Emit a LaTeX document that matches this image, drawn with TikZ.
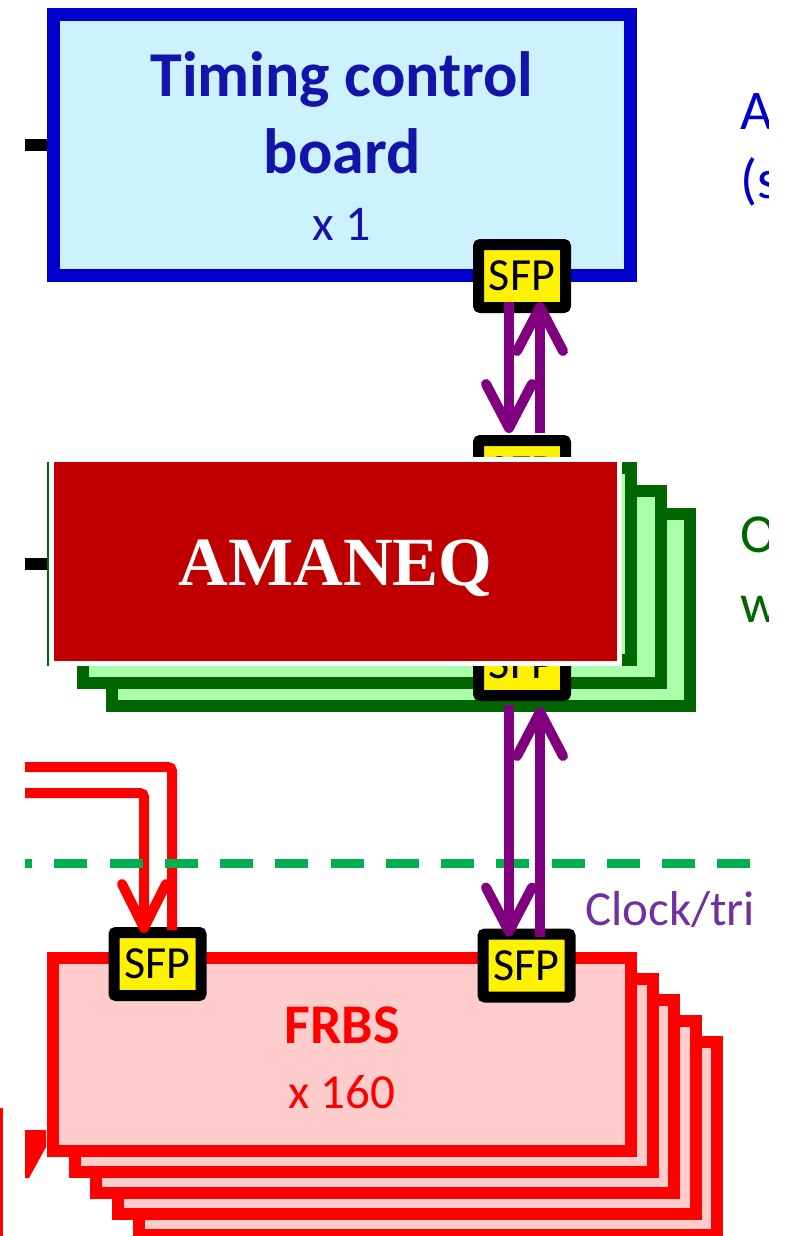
\documentclass[tikz,border=0pt]{standalone}
\usepackage{fontspec}
\setmainfont{Carlito}
\newfontfamily\amafont{Liberation Serif}
\usetikzlibrary{arrows.meta,calc}
\newcommand\myfs[1]{\fontsize{#1pt}{#1pt}\selectfont}
\definecolor{tblue}{RGB}{0,0,204}
\definecolor{tfill}{RGB}{204,242,255}
\definecolor{ttext}{RGB}{20,20,170}
\definecolor{gdark}{RGB}{0,102,0}
\definecolor{gfill}{RGB}{170,255,170}
\definecolor{amared}{RGB}{192,0,0}
\definecolor{rfill}{RGB}{255,204,204}
\definecolor{rline}{RGB}{255,0,0}
\definecolor{purp}{RGB}{128,0,128}
\definecolor{clockc}{RGB}{112,48,160}
\definecolor{dashg}{RGB}{0,176,80}
\begin{document}
\begin{tikzpicture}[x=1pt,y=-1pt,
  sfp/.style={draw=black, fill=yellow, line width=11pt, minimum width=87pt, minimum height=63pt, inner sep=0pt, rounded corners=2pt, font=\myfs{46}},
  gbox/.style={draw=gdark, fill=gfill, line width=12pt, minimum width=578pt, minimum height=192pt, inner sep=0pt},
  rbox/.style={draw=rline, fill=rfill, line width=12pt, minimum width=578pt, minimum height=193pt, inner sep=0pt},
  parrow/.style={draw=purp, line width=10pt, -{Straight Barb[length=44pt,width=46pt,round]}},
  redline/.style={draw=rline, line width=10pt, rounded corners=4pt},
  stub/.style={draw=black, line width=12pt},
  lbl/.style={inner sep=0pt, anchor=base},
  side/.style={inner sep=0pt, anchor=base west}
]
\fill[white] (0,0) rectangle (794,1236);
\useasboundingbox (0,0) rectangle (794,1236);

% ---------- timing control board ----------
\node[draw=tblue, fill=tfill, line width=13pt, minimum width=577pt, minimum height=260pt, inner sep=0pt] (tcb) at (341.5,145) {};
\node[lbl, text=ttext, font=\myfs{64}\bfseries] (tcb1) at (342,97) {Timing control};
\node[lbl, text=ttext, font=\myfs{64}\bfseries] (tcb2) at (342,173) {board};
\node[lbl, text=ttext, font=\myfs{50}] (tcb3) at (342,240) {x 1};
\coordinate (k1) at (25,145);
\draw[stub] (k1) -- (tcb.west);

% ---------- green stack ----------
\node[gbox] (g3) at (401,610) {};
\node[gbox] (g2) at (371.5,587) {};
\node[gbox] (g1) at (342,564) {};
\coordinate (k2) at (25,564);
\draw[stub] (k2) -- (g1.west);

% ---------- SFPs ----------
\node[sfp] (s1) at (522,276) {SFP};
\node[sfp] (s2) at (522,472) {SFP};
\node[sfp] (s3) at (522,664) {SFP};

% ---------- AMANEQ overlay ----------
\node[fill=amared, draw=white, line width=5pt, minimum width=568pt, minimum height=204pt, inner sep=0pt,
      text=white, font=\amafont\myfs{69}\bfseries, text height=47pt, text depth=0pt] (ama) at (335.5,561.5) {AMANEQ};

% ---------- FRBS stack ----------
\node[rbox] (r5) at (428,1138.5) {};
\node[rbox] (r4) at (406.5,1117.5) {};
\node[rbox] (r3) at (385,1096.5) {};
\node[rbox] (r2) at (363.5,1075.5) {};
\node[rbox] (r1) at (342,1054.5) {};
\node[lbl, text=rline, font=\myfs{56}\bfseries] (rt1) at (342,1043) {FRBS};
\node[lbl, text=rline, font=\myfs{49}] (rt2) at (342,1108) {x 160};
\node[sfp] (s4) at (526.5,965.5) {SFP};
\node[sfp] (s5) at (157.5,964) {SFP};

% ---------- dashed boundary ----------
\coordinate (dl) at (25,863);
\coordinate (dr) at (750,863);

% ---------- red links ----------
\coordinate (ra) at (25,767);
\coordinate (rb) at (25,793);
\draw[redline] (ra) -| ($(s5.north)+(14.5,3)$);
\draw[redline, -{Straight Barb[length=44pt,width=44pt,round]}] (rb) -| ($(s5.north)+(-13.5,6)$);
\draw[draw=dashg, line width=9pt, dash pattern=on 33pt off 22.25pt, dash phase=26pt] (dl) -- (dr);

% ---------- purple links ----------
\draw[parrow] ($(s1.south)+(-13,-11)$) -- ($(s2.north)+(-13,-2)$);
\draw[parrow] ($(s2.north)+(18,-2)$) -- ($(s1.south)+(18,-11)$);
\draw[parrow] ($(s3.south)+(-13,4)$) -- ($(s4.north)+(-17.5,8)$);
\draw[parrow] ($(s4.north)+(13.5,8)$) -- ($(s3.south)+(18,6)$);

% ---------- bottom-left fragments ----------
\draw[rline, line width=3pt] (1.5,1108) -- (1.5,1236);
\fill[rline] (25,1130) -- (46,1130) -- (46,1147) -- (29,1178) -- (25,1178) -- cycle;

% ---------- side texts (cut at the right) ----------
\begin{scope}
\clip (0,0) rectangle (768,1236);
\node[side, text=tblue, font=\myfs{56}] (a1) at (740,130) {A};
\node[side, text=tblue, font=\myfs{56}] (a2) at (740,198) {(s};
\node[side, text=gdark, font=\myfs{55}] (o1) at (740,552) {O};
\node[side, text=gdark, font=\myfs{55}] (o2) at (740,622) {w};
\node[side, text=clockc, font=\myfs{49}] (ck) at (585,925) {Clock/tri};
\end{scope}
\end{tikzpicture}
\end{document}
